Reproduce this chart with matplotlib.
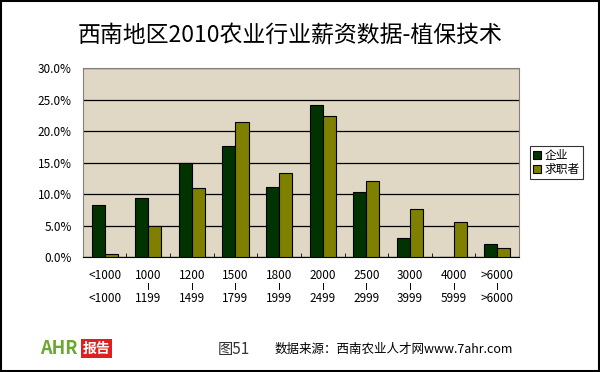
import matplotlib
matplotlib.use('Agg')
import numpy as np
import matplotlib.pyplot as plt
from matplotlib.patches import Rectangle

plt.rcParams['font.family'] = ['Noto Sans CJK SC', 'DejaVu Sans']

# salary bands
band_lo = ["<1000", "1000", "1200", "1500", "1800", "2000", "2500", "3000", "4000", ">6000"]
band_hi = ["<1000", "1199", "1499", "1799", "1999", "2499", "2999", "3999", "5999", ">6000"]
# percentages
qiye = [8.3, 9.3, 14.9, 17.6, 11.2, 24.2, 10.3, 3.0, 0.0, 2.0]
qiuzhi = [0.5, 5.0, 10.9, 21.5, 13.4, 22.4, 12.1, 7.6, 5.5, 1.5]
series_names = ["企业", "求职者"]
yticks = [0, 5, 10, 15, 20, 25, 30]

fig = plt.figure(figsize=(6, 3.72), dpi=100)
ax = fig.add_axes([0.138, 0.309, 0.727, 0.508])
ax.set_facecolor("#e0d8c4")

x = np.arange(len(band_lo))
w = 0.3
ax.bar(x - w/2, qiye, w, color="#003300", edgecolor="black", linewidth=0.8, label=series_names[0], zorder=3)
ax.bar(x + w/2, qiuzhi, w, color="#808000", edgecolor="black", linewidth=0.8, label=series_names[1], zorder=3)

ax.set_xlim(-0.5, len(band_lo) - 0.5)
ax.set_ylim(0, 30)
ax.set_yticks(yticks)
ax.set_yticklabels(["%.1f%%" % v for v in yticks], fontsize=8.5)
ax.yaxis.grid(True, color="black", linewidth=0.9, zorder=1)
ax.tick_params(axis="y", length=0, pad=8)

# two-row band labels, with a small bar between rows
ax.set_xticks(x)
ax.set_xticklabels([])
ax.tick_params(axis="x", length=0)
ax.set_xticks(np.arange(len(band_lo) + 1) - 0.5, minor=True)
ax.tick_params(axis="x", which="minor", direction="in", length=3, color="black")
tr = ax.get_xaxis_transform()
for i, (a, b) in enumerate(zip(band_lo, band_hi)):
    ax.text(i, -0.095, a, transform=tr, ha="center", va="center", fontsize=8.5)
    ax.text(i, -0.218, b, transform=tr, ha="center", va="center", fontsize=8.5)
    if i > 0:
        ax.plot([i, i], [-0.135, -0.170], transform=tr, color="black", linewidth=0.7, clip_on=False)

for s in ["top", "right", "left"]:
    ax.spines[s].set_color("#808080")
    ax.spines[s].set_linewidth(0.8)
ax.spines["bottom"].set_color("black")

leg = ax.legend(loc="center left", bbox_to_anchor=(1.025, 0.5), fontsize=8.5, frameon=True,
                fancybox=False, handlelength=0.7, handleheight=0.7, handletextpad=0.3,
                borderpad=0.25, labelspacing=0.1, borderaxespad=0)
leg.get_frame().set_edgecolor("black")
leg.get_frame().set_linewidth(0.8)

fig.text(0.483, 0.905, "西南地区2010农业行业薪资数据-植保技术", ha="center", va="center", fontsize=16.5)

# footer
fig.text(0.066, 0.062, "AHR", color="#6aa832", fontsize=13, fontweight="bold", ha="left", va="center")
fig.patches.append(Rectangle((0.135, 0.038), 0.052, 0.05, transform=fig.transFigure,
                             facecolor="#e02020", edgecolor="none"))
fig.text(0.161, 0.062, "报告", color="white", fontsize=10, fontweight="bold", ha="center", va="center")
fig.text(0.363, 0.06, "图51", fontsize=11, ha="left", va="center", color="#333333")
fig.text(0.458, 0.06, "数据来源：西南农业人才网www.7ahr.com", fontsize=9, ha="left", va="center")

# outer frame
fig.patches.append(Rectangle((0.002, 0.003), 0.996, 0.994, transform=fig.transFigure,
                             facecolor="none", edgecolor="black", linewidth=1.5))

fig.savefig("out.png", dpi=100)
